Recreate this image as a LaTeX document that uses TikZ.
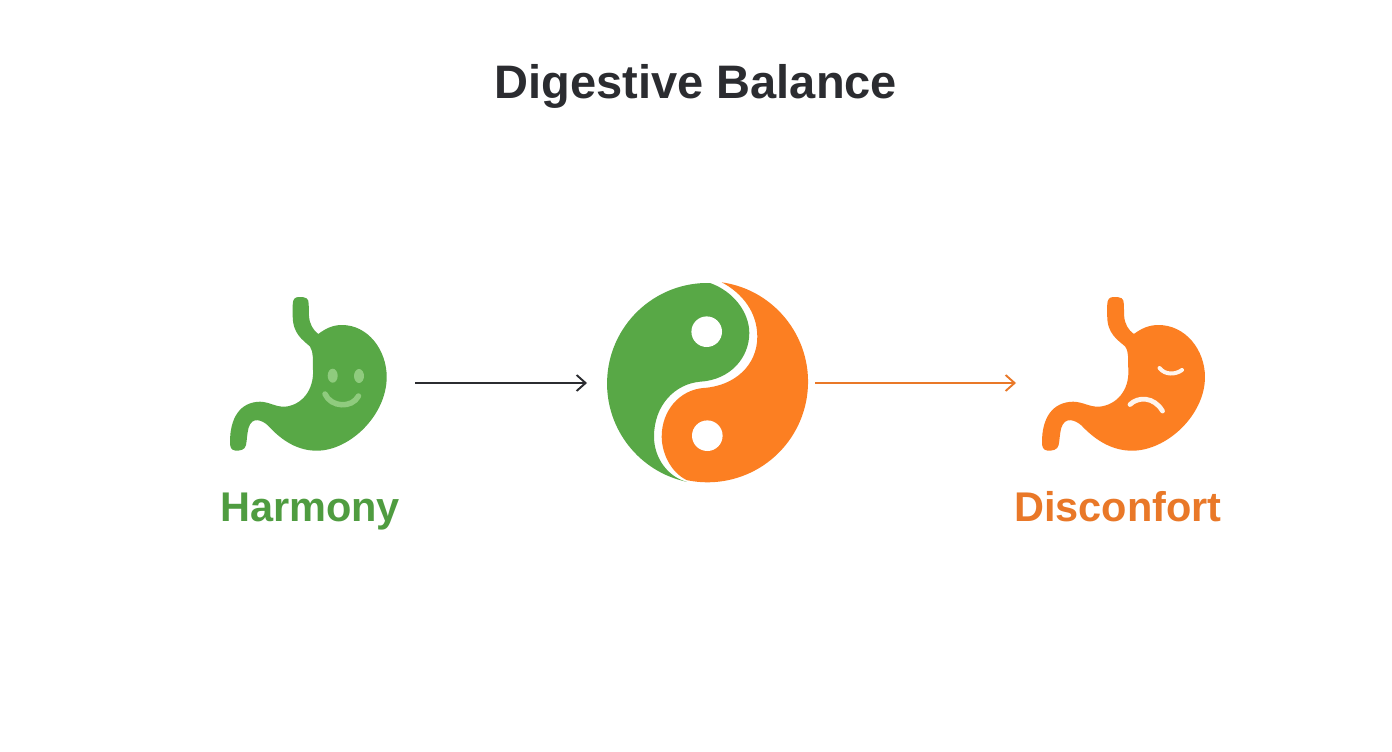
\documentclass[tikz,border=0pt]{standalone}
\usepackage{fontspec}
\setmainfont{Liberation Sans}
\usetikzlibrary{arrows.meta}
\definecolor{calmgreen}{HTML}{58A846}
\definecolor{calmtext}{HTML}{4F9C40}
\definecolor{calmface}{HTML}{8FCB7E}
\definecolor{upsetorange}{HTML}{FC7F22}
\definecolor{upsettext}{HTML}{E97828}
\definecolor{inkdark}{HTML}{2B2C30}
\tikzset{
	caption/.style={font=\fontsize{41.5}{41.5}\selectfont\bfseries, anchor=base},
	heading/.style={font=\fontsize{47}{47}\selectfont\bfseries, anchor=base, text=inkdark},
	flow/.style={line width=1.9pt, -{Straight Barb[length=9pt,width=16pt]}},
	faceline/.style={line cap=round, line width=#1},
}
\def\stomach#1{\fill[#1] (292.7,305) .. controls (292.7,299) and (295,297) .. (299,297)
	.. controls (306,297) and (308.7,298) .. (308.7,304) -- (309,316)
	.. controls (309.5,324) and (313,330) .. (318.3,334)
	.. controls (325,329) and (332,325) .. (342,325)
	.. controls (368,325) and (386.7,350) .. (386.7,377)
	.. controls (386.7,415) and (350,450.7) .. (316.7,450.7)
	.. controls (298,450.7) and (282,441) .. (268,425.5)
	.. controls (262,420) and (252,416) .. (248.5,428)
	.. controls (247,434) and (247,440) .. (246,445)
	.. controls (245,450) and (240,451) .. (235,450.5)
	.. controls (231,450) and (230,447) .. (230,442)
	.. controls (230,418) and (240,402) .. (260,401.7)
	.. controls (270,402) and (275,407) .. (285,406.7)
	.. controls (302,405) and (314,390) .. (313,370)
	.. controls (312.5,360) and (314,353) .. (310,346.5)
	.. controls (303,340) and (292.7,334) .. (292.7,316) -- cycle;}

\begin{document}
\begin{tikzpicture}[x=1pt, y=-1pt]
	%%%%% START %%%%%
	\useasboundingbox[fill=white] (0, 0) rectangle (1392, 752);

	\node[heading] (title) at (696, 99) {Digestive Balance};

	% left stomach
	\stomach{calmgreen}
	\fill[calmface] (332.7, 375.7) ellipse (5 and 7);
	\fill[calmface] (359, 376) ellipse (5 and 7);
	\draw[faceline=5.5pt, calmface] (325, 394) .. controls (331, 407.5) and (352, 408.5) .. (358.5, 396);
	\node[caption, text=calmtext] (harmony) at (310, 521) {Harmony};

	% yin yang
	\fill[calmgreen] (710, 283) arc (-88.6:-258.1:100.5)
		.. controls (668, 477) and (654, 458) .. (654, 436.7)
		.. controls (654, 405) and (675, 384) .. (700, 381.7)
		.. controls (730, 380) and (749.3, 358) .. (749.3, 333)
		.. controls (749.3, 312) and (733, 291) .. (710, 283) -- cycle;
	\fill[upsetorange] (721.7, 282.3) arc (-81.9:101.9:100.5)
		.. controls (670, 472) and (661.7, 452) .. (661.7, 436.7)
		.. controls (661.7, 410) and (680, 390) .. (703.3, 388)
		.. controls (735, 386) and (757.3, 365) .. (757.3, 336.7)
		.. controls (757.3, 312) and (742, 293) .. (721.7, 282.3) -- cycle;
	\fill[white] (706.7, 331.7) circle (15.3);
	\fill[white] (707.3, 435.7) circle (15.3);

	% right stomach
	\begin{scope}[shift={(1042, 0)}, xscale=1.04, shift={(-230, 0)}]
		\stomach{upsetorange}
	\end{scope}
	\draw[faceline=4pt, white!92!upsetorange] (1159.5, 368) .. controls (1165, 375) and (1175, 375) .. (1182, 370);
	\draw[faceline=4.8pt, white!92!upsetorange] (1130, 404.5) .. controls (1138, 396.5) and (1154, 396.5) .. (1162.5, 411);
	\node[caption, text=upsettext] (disconfort) at (1118, 521) {Disconfort};

	% arrows
	\coordinate (calmout) at (415, 383);
	\coordinate (balancein) at (587, 383);
	\coordinate (balanceout) at (815, 383);
	\coordinate (upsetin) at (1016, 383);
	\draw[flow, inkdark] (calmout) -- (balancein);
	\draw[flow, upsettext] (balanceout) -- (upsetin);
	%%%%% END %%%%%
\end{tikzpicture}
\end{document}
